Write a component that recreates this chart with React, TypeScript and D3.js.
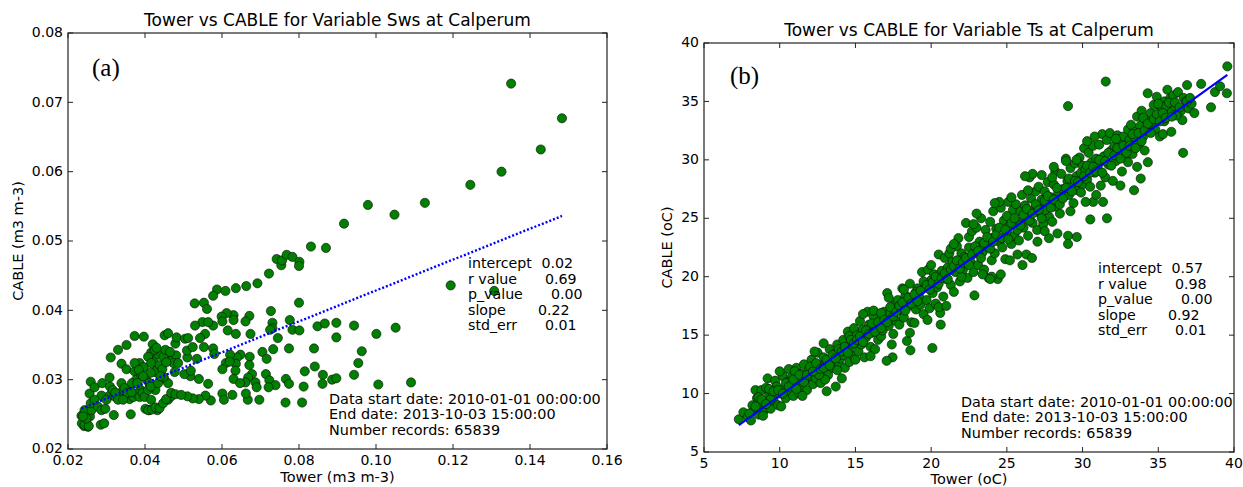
import React from 'react';
import * as d3 from 'd3';

// Sws panel (a): tower vs cable soil water, m3 m-3
const swsPoints: [number, number][] = [
  [0.0235, 0.0248], [0.0243, 0.0256], [0.0248, 0.0237], [0.0242, 0.0233], [0.0252, 0.0232],
  [0.0257, 0.0247], [0.0261, 0.0256], [0.0259, 0.0266], [0.0256, 0.028], [0.0259, 0.0297],
  [0.0269, 0.0289], [0.0278, 0.0261], [0.0287, 0.0256], [0.0297, 0.0258], [0.0285, 0.0235],
  [0.0294, 0.0237], [0.0287, 0.0277], [0.0289, 0.0295], [0.0308, 0.0277], [0.0308, 0.0303],
  [0.0319, 0.0249], [0.0311, 0.0332], [0.033, 0.0343], [0.0339, 0.0323], [0.0321, 0.0276],
  [0.0334, 0.0279], [0.0343, 0.0285], [0.0352, 0.035], [0.0352, 0.0315], [0.0356, 0.0285],
  [0.036, 0.0272], [0.0363, 0.025], [0.0373, 0.0363], [0.0373, 0.0312], [0.0377, 0.03],
  [0.0386, 0.0324], [0.0389, 0.0308], [0.0389, 0.0285], [0.0397, 0.0362], [0.0397, 0.0318],
  [0.0404, 0.03], [0.0411, 0.0295], [0.0411, 0.0256], [0.0416, 0.0339], [0.042, 0.0351],
  [0.0422, 0.0326], [0.0425, 0.0311], [0.0427, 0.0285], [0.0432, 0.0256], [0.0435, 0.0336],
  [0.0442, 0.0318], [0.0449, 0.0302], [0.0451, 0.0364], [0.0456, 0.0337], [0.046, 0.0367],
  [0.046, 0.0295], [0.046, 0.0271], [0.0468, 0.0276], [0.047, 0.0328], [0.0477, 0.0311],
  [0.0479, 0.0352], [0.0482, 0.0361], [0.0481, 0.0335],
  [0.0339, 0.0295], [0.0347, 0.0288], [0.0354, 0.0281], [0.0366, 0.0295], [0.037, 0.0275],
  [0.0378, 0.028], [0.0386, 0.0275], [0.0394, 0.0281], [0.0399, 0.0275], [0.0408, 0.0285],
  [0.0415, 0.029], [0.0416, 0.0271], [0.0408, 0.0333], [0.0416, 0.0324], [0.0432, 0.0314],
  [0.0438, 0.0321], [0.0448, 0.0333], [0.0453, 0.0343], [0.0465, 0.034], [0.0474, 0.0324],
  [0.0486, 0.0324], [0.0401, 0.0258], [0.0408, 0.0256], [0.0418, 0.0257], [0.0427, 0.026],
  [0.0438, 0.0259], [0.0447, 0.0266], [0.0455, 0.0272], [0.0468, 0.0281], [0.0479, 0.0279],
  [0.0236, 0.0237], [0.0243, 0.0235], [0.0254, 0.0233], [0.0248, 0.0244], [0.0239, 0.0247],
  [0.0309, 0.029], [0.0316, 0.0285], [0.0323, 0.0281], [0.0373, 0.0324], [0.0384, 0.0314],
  [0.0425, 0.0343], [0.0434, 0.0295], [0.0448, 0.0304], [0.0269, 0.0271], [0.03, 0.0271],
  [0.033, 0.0271], [0.0343, 0.0271], [0.0445, 0.0315], [0.0455, 0.0325], [0.0415, 0.031],
  [0.0395, 0.0305], [0.038, 0.0295], [0.0365, 0.0282], [0.043, 0.0346], [0.044, 0.0305],
  [0.0587, 0.043], [0.0577, 0.0421], [0.0553, 0.0411], [0.0529, 0.041], [0.0561, 0.0402],
  [0.0727, 0.0399], [0.0731, 0.0382], [0.0731, 0.0374], [0.0725, 0.0372], [0.0671, 0.0392],
  [0.0661, 0.0384], [0.063, 0.0393], [0.063, 0.0386], [0.0612, 0.0396], [0.0599, 0.0391],
  [0.0601, 0.0384], [0.0615, 0.0371], [0.0636, 0.0366], [0.0674, 0.0366], [0.0745, 0.036],
  [0.0774, 0.0345], [0.0733, 0.0344], [0.0705, 0.034], [0.0716, 0.033], [0.0672, 0.0333],
  [0.0648, 0.0336], [0.0639, 0.0332], [0.0636, 0.0323], [0.061, 0.0324], [0.0621, 0.0336],
  [0.0577, 0.0378], [0.0549, 0.0383], [0.0564, 0.0383], [0.053, 0.0378], [0.0577, 0.0345],
  [0.0556, 0.0366], [0.0543, 0.036], [0.0553, 0.0347], [0.058, 0.0337], [0.0601, 0.0315],
  [0.062, 0.0326], [0.0635, 0.0313], [0.063, 0.0301], [0.0671, 0.0321], [0.0678, 0.0308],
  [0.0668, 0.0303], [0.0661, 0.0296], [0.0647, 0.0295], [0.0687, 0.0296], [0.069, 0.0289],
  [0.0714, 0.0308], [0.0723, 0.0299], [0.0739, 0.0292], [0.0721, 0.0289], [0.0697, 0.0271],
  [0.0667, 0.0271], [0.0662, 0.028], [0.0627, 0.0278], [0.0601, 0.028], [0.0605, 0.0271],
  [0.0571, 0.027], [0.0557, 0.0277], [0.054, 0.0272], [0.0524, 0.0273], [0.051, 0.0276],
  [0.0494, 0.0278], [0.0564, 0.0294], [0.054, 0.0301], [0.0518, 0.0305], [0.0502, 0.0308],
  [0.0519, 0.0313], [0.051, 0.0332], [0.0535, 0.033], [0.0509, 0.0342], [0.0524, 0.0347],
  [0.0504, 0.0359], [0.0512, 0.036],
  [0.0692, 0.0439], [0.0663, 0.0435], [0.0636, 0.0432], [0.0609, 0.0428], [0.0722, 0.0453],
  [0.0742, 0.0474], [0.0754, 0.0465], [0.0756, 0.0472], [0.0768, 0.048], [0.0783, 0.0477],
  [0.0801, 0.047], [0.08, 0.0464], [0.08, 0.0411], [0.0783, 0.0372], [0.0776, 0.0386],
  [0.0801, 0.0371], [0.0766, 0.0301], [0.0774, 0.0294], [0.0765, 0.0267], [0.0808, 0.0267],
  [0.0812, 0.029], [0.0815, 0.0312], [0.0841, 0.0319], [0.0862, 0.0307], [0.0861, 0.0294],
  [0.0839, 0.0345], [0.0848, 0.0377], [0.0867, 0.0381], [0.0886, 0.03], [0.0897, 0.0302],
  [0.0897, 0.0361], [0.0897, 0.0382], [0.0943, 0.0307], [0.0954, 0.0324], [0.0963, 0.0341],
  [0.0943, 0.0378], [0.1001, 0.0366], [0.1051, 0.0375], [0.1006, 0.0293], [0.1091, 0.0296],
  [0.0831, 0.0492], [0.087, 0.049], [0.0917, 0.0525], [0.0979, 0.0552], [0.1048, 0.0538],
  [0.1127, 0.0555], [0.1194, 0.0436], [0.1307, 0.0428], [0.1245, 0.0581], [0.1326, 0.06],
  [0.1428, 0.0632], [0.1351, 0.0727], [0.1483, 0.0677],
];

// Ts panel (b): tower vs cable soil temperature, oC
const tsPoints: [number, number][] = [
  [7.3, 7.8], [7.6, 8.4], [7.9, 8.0], [8.1, 7.7], [8.3, 8.6], [8.4, 10.3], [8.5, 9.6], [8.6, 8.2],
  [8.7, 8.9], [8.8, 10.3], [8.9, 9.3], [9.0, 8.6], [8.6, 9.7], [8.2, 9.0], [8.9, 8.1],
  [9.2, 11.3], [9.3, 9.9], [9.4, 8.7], [9.5, 10.1], [9.6, 9.4], [9.7, 11.1], [9.8, 10.6], [9.9, 9.0],
  [10.0, 10.0], [10.1, 8.9], [10.2, 11.5], [10.3, 10.4], [10.4, 9.6], [10.5, 11.0], [9.1, 10.5],
  [9.4, 9.5], [10.0, 11.9],
  [10.6, 12.1], [10.7, 10.2], [10.8, 11.4], [10.9, 9.8], [11.0, 10.7], [11.1, 12.2], [11.2, 11.0],
  [11.3, 10.0], [11.4, 11.7], [11.5, 10.5], [11.6, 12.5], [11.7, 11.2], [11.8, 10.3], [11.9, 12.0],
  [12.0, 11.5], [11.0, 11.9], [10.7, 11.0], [11.5, 9.8],
  [12.1, 12.9], [12.2, 10.8], [12.3, 12.0], [12.4, 11.3], [12.5, 13.5], [12.6, 12.4], [12.7, 10.9],
  [12.8, 11.9], [12.9, 13.1], [13.0, 12.5], [13.1, 10.2], [13.2, 11.6], [13.3, 13.8], [13.4, 12.8],
  [12.3, 13.6], [12.9, 14.3], [13.0, 11.2], [13.5, 12.2], [12.6, 11.6],
  [13.6, 13.4], [13.7, 10.6], [13.8, 14.2], [13.9, 12.6], [14.0, 13.0], [14.1, 11.3], [14.2, 14.6],
  [14.3, 12.2], [14.4, 13.7], [14.5, 15.3], [14.6, 12.7], [14.7, 14.1], [14.8, 13.3], [14.9, 15.6],
  [15.0, 14.4], [14.2, 13.3], [13.8, 12.0], [14.6, 14.9], [15.0, 12.9],
  [15.1, 15.0], [15.2, 13.6], [15.3, 16.2], [15.4, 14.2], [15.5, 15.5], [15.6, 13.1], [15.7, 14.8],
  [15.8, 17.0], [15.9, 15.9], [16.0, 14.0], [16.1, 15.2], [16.2, 16.6], [16.3, 13.8], [16.4, 15.6],
  [16.5, 14.6], [15.5, 16.8], [16.0, 13.2], [16.2, 17.1],
  [16.6, 16.1], [16.7, 14.9], [16.8, 15.4], [16.9, 17.0], [17.0, 16.4], [17.1, 18.6], [17.2, 15.8],
  [17.3, 16.9], [17.4, 14.2], [17.5, 15.1], [17.6, 17.6], [17.7, 16.2], [17.8, 18.0], [17.9, 15.9],
  [18.0, 17.1], [17.45, 13.1], [17.06, 12.8], [17.2, 18.2], [16.7, 16.9],
  [18.1, 19.0], [18.2, 16.5], [18.3, 18.4], [18.4, 14.5], [18.5, 17.5], [18.6, 19.4], [18.63, 13.7],
  [18.7, 16.1], [18.8, 18.0], [18.9, 16.05], [19.0, 17.2], [19.1, 19.0], [19.2, 18.3], [19.3, 17.6],
  [19.4, 20.4], [19.5, 16.8], [18.2, 18.9], [18.6, 15.2], [19.0, 18.7], [19.76, 16.3],
  [19.6, 19.1], [19.7, 18.0], [19.8, 20.6], [19.9, 17.3], [20.0, 19.7], [20.1, 18.6], [20.08, 13.9],
  [20.2, 20.2], [20.3, 17.7], [20.4, 19.1], [20.5, 21.9], [20.63, 15.9], [20.6, 16.9], [20.7, 20.5],
  [20.8, 18.3], [20.9, 21.6], [21.0, 19.8], [20.0, 21.0], [20.5, 17.4], [21.0, 17.5],
  [21.1, 20.8], [21.2, 22.0], [21.3, 19.3], [21.4, 21.3], [21.5, 18.7], [21.6, 20.4], [21.7, 22.6],
  [21.8, 21.0], [21.9, 19.6], [22.0, 22.0], [22.1, 20.6], [22.2, 21.7], [22.3, 24.6], [22.4, 19.9],
  [22.5, 22.5], [22.86, 18.4], [21.3, 22.4], [22.0, 20.0], [22.5, 23.4], [21.8, 23.3],
  [22.6, 21.3], [22.7, 23.9], [22.8, 20.4], [22.9, 22.0], [23.0, 24.2], [23.1, 21.0], [23.2, 23.0],
  [23.3, 25.0], [23.4, 22.1], [23.5, 20.6], [23.6, 24.0], [23.7, 22.6], [23.8, 19.9], [23.9, 24.7],
  [24.0, 23.3], [23.0, 25.4], [23.4, 20.2], [24.0, 21.4], [23.2, 22.5],
  [24.1, 25.6], [24.2, 22.0], [24.3, 24.1], [24.4, 19.8], [24.5, 23.0], [24.6, 25.9], [24.7, 22.5],
  [24.8, 24.8], [24.9, 21.5], [25.0, 23.8], [25.1, 26.4], [25.2, 24.4], [25.3, 22.8], [25.4, 25.7],
  [25.5, 23.5], [24.5, 26.4], [24.0, 20.0], [25.7, 21.9], [25.0, 25.2],
  [25.6, 26.2], [25.7, 24.7], [25.8, 23.1], [25.9, 25.6], [26.0, 27.0], [26.03, 21.0], [26.1, 24.2],
  [26.2, 26.1], [26.29, 21.9], [26.3, 25.0], [26.4, 23.5], [26.5, 28.5], [26.6, 26.7], [26.66, 21.6],
  [26.7, 24.6], [26.8, 25.8], [26.9, 27.3], [27.0, 26.0], [27.02, 23.0], [26.4, 27.4], [27.0, 24.0],
  [26.7, 28.8],
  [27.1, 27.7], [27.2, 25.4], [27.3, 26.6], [27.4, 24.5], [27.5, 27.3], [27.6, 26.1], [27.7, 28.1],
  [27.78, 23.3], [27.8, 25.1], [27.9, 26.8], [28.0, 24.7], [28.1, 27.9], [28.2, 29.0], [28.3, 26.4],
  [28.34, 23.7], [28.4, 27.2], [28.5, 25.4], [28.0, 28.5], [27.5, 25.7], [28.2, 26.0],
  [28.6, 28.8], [28.7, 27.5], [28.8, 26.9], [28.9, 30.1], [29.0, 28.2], [29.04, 34.6], [29.04, 23.5],
  [29.04, 22.8], [29.1, 27.0], [29.2, 29.3], [29.3, 28.0], [29.4, 26.3], [29.5, 29.7], [29.62, 23.4],
  [29.6, 28.6], [29.7, 27.4], [29.8, 30.2], [29.9, 28.9], [30.0, 27.9], [29.2, 25.6], [30.0, 29.5],
  [30.1, 31.0], [30.2, 29.2], [30.3, 28.3], [30.4, 30.6], [30.5, 27.7], [30.51, 24.9], [30.6, 29.8],
  [30.7, 26.4], [30.7, 31.2], [30.8, 28.9], [30.9, 30.1], [31.0, 29.4], [31.1, 31.3], [31.2, 27.8],
  [31.35, 26.4], [31.4, 30.3], [31.5, 28.5], [31.53, 36.7], [31.61, 25.0], [31.3, 32.2], [30.9, 27.0],
  [31.6, 31.7], [31.7, 29.6], [31.8, 32.3], [31.9, 30.8], [32.0, 28.2], [32.1, 31.2], [32.2, 29.9],
  [32.3, 32.1], [32.4, 30.4], [32.5, 31.6], [32.6, 29.0], [32.7, 32.0], [32.8, 30.3], [32.9, 31.1],
  [33.0, 32.6], [32.2, 31.8], [32.6, 30.8], [33.0, 29.8],
  [33.1, 31.7], [33.2, 33.0], [33.3, 30.5], [33.4, 27.4], [33.5, 32.4], [33.6, 33.7], [33.7, 31.3],
  [33.84, 28.4], [33.8, 32.9], [33.9, 34.2], [34.0, 32.0], [34.1, 30.8], [34.2, 33.4], [34.31, 29.8],
  [34.3, 35.7], [34.4, 32.7], [34.5, 34.0], [33.4, 32.0], [34.0, 33.6],
  [34.6, 33.0], [34.7, 34.7], [34.8, 32.6], [34.9, 35.4], [35.0, 33.5], [35.1, 32.0], [35.2, 34.4],
  [35.31, 32.2], [35.4, 35.0], [35.5, 34.6], [35.6, 36.0], [35.7, 33.9], [35.86, 32.4], [35.8, 35.3],
  [35.9, 34.1], [36.0, 35.5], [35.0, 34.8], [35.4, 33.3],
  [36.1, 34.6], [36.3, 35.8], [36.5, 34.2], [36.59, 33.4], [36.64, 30.6], [36.67, 35.3], [36.8, 35.0],
  [37.0, 34.4], [37.2, 34.8], [37.38, 34.0], [37.83, 36.5], [38.48, 34.5], [38.74, 35.8],
  [39.08, 36.3], [39.53, 35.7], [39.56, 38.0], [36.2, 33.8], [36.9, 36.4],
  // dense core along the fit
  [8.0, 8.3], [8.4, 8.9], [8.8, 9.5], [9.1, 9.1], [9.3, 10.4], [9.6, 10.2], [9.9, 10.3], [10.2, 10.0],
  [10.4, 10.9], [10.6, 10.6], [10.9, 11.2], [11.1, 10.4], [11.3, 11.6], [11.6, 11.0], [11.8, 11.6],
  [12.0, 12.3], [12.2, 11.9], [12.4, 12.6], [12.7, 12.1], [12.9, 12.2], [13.1, 12.9], [13.3, 12.4],
  [13.5, 13.3], [13.7, 13.0], [13.9, 13.8], [14.1, 13.6], [14.3, 14.0], [14.5, 13.5], [14.7, 14.6],
  [14.9, 14.3], [15.1, 14.6], [15.3, 14.9], [15.5, 14.4], [15.7, 15.4], [15.9, 15.1], [16.1, 16.0],
  [16.3, 15.3], [16.5, 16.1], [16.7, 15.6], [16.9, 16.3], [17.1, 16.1], [17.3, 17.4], [17.5, 16.6],
  [17.7, 17.0], [17.9, 17.5], [18.1, 17.8], [18.3, 17.1], [18.5, 18.2], [18.7, 17.7], [18.9, 18.5],
  [19.1, 17.9], [19.3, 18.8], [19.5, 19.6], [19.7, 19.3], [19.9, 18.9], [20.1, 19.5], [20.3, 20.0],
  [20.5, 19.4], [20.7, 19.9], [20.9, 20.3], [21.1, 19.8], [21.3, 20.6], [21.5, 20.9], [21.7, 21.4],
  [21.9, 20.7], [22.1, 21.2], [22.3, 21.6], [22.5, 21.0], [22.7, 21.9], [22.9, 22.6], [23.1, 22.2],
  [23.3, 21.6], [23.5, 22.9], [23.7, 23.4], [23.9, 22.4], [24.1, 23.0], [24.3, 23.6], [24.5, 24.2],
  [24.7, 23.3], [24.9, 24.0], [25.1, 23.2], [25.3, 24.6], [25.5, 25.0], [25.7, 24.0], [25.9, 24.4],
  [26.1, 25.3], [26.3, 25.8], [26.5, 24.8], [26.7, 25.4], [26.9, 26.2], [27.1, 25.7], [27.3, 25.0],
  [27.5, 26.5], [27.7, 26.9], [27.9, 25.9], [28.1, 26.6], [28.3, 27.6], [28.5, 26.2], [28.7, 26.7],
  [28.9, 27.6], [29.1, 28.4], [29.3, 27.3], [29.5, 28.2], [29.7, 28.1], [29.9, 27.2], [30.1, 28.6],
  [30.3, 29.5], [30.5, 28.9], [30.7, 29.4], [30.9, 29.0], [31.1, 30.0], [31.3, 28.9], [31.5, 29.9],
  [31.7, 30.6], [31.9, 29.5], [32.1, 30.4], [32.3, 31.0], [32.5, 30.1], [32.7, 31.2], [32.9, 30.6],
  [33.1, 31.2], [33.3, 32.2], [33.5, 31.0], [33.7, 32.3], [33.9, 31.6], [34.1, 32.5], [34.3, 33.1],
  [34.5, 32.3], [34.7, 33.5], [34.9, 33.9], [35.1, 33.3], [35.3, 34.0], [35.5, 33.6], [35.7, 34.9],
  [35.9, 33.7], [36.1, 34.9], [36.4, 34.5], [36.9, 35.0], [37.1, 35.3],
  [21.5, 22.8], [22.8, 24.5], [24.2, 26.3], [25.3, 26.8], [26.2, 28.6], [27.3, 28.7], [28.1, 29.4],
  [28.9, 29.9], [29.6, 30.0], [30.3, 31.6], [30.8, 32.0], [23.9, 19.8], [24.6, 20.2], [25.2, 21.4],
  [27.5, 23.9], [30.2, 26.4], [32.5, 27.8], [33.6, 29.4],
];

const swsXTicks = [0.02, 0.04, 0.06, 0.08, 0.1, 0.12, 0.14, 0.16];
const swsYTicks = [0.02, 0.03, 0.04, 0.05, 0.06, 0.07, 0.08];
const tsXTicks = [5, 10, 15, 20, 25, 30, 35, 40];
const tsYTicks = [5, 10, 15, 20, 25, 30, 35, 40];

const statNames = ['intercept', 'r value', 'p_value', 'slope', 'std_err'];
const swsStats = ['0.02', '0.69', '0.00', '0.22', '0.01'];
const tsStats = ['0.57', '0.98', '0.00', '0.92', '0.01'];
const dateLines = [
  'Data start date: 2010-01-01 00:00:00',
  'End date: 2013-10-03 15:00:00',
  'Number records: 65839',
];

// fitted line used for the blue overlay
const swsFit = { intercept: 0.0206, slope: 0.2226 };
const tsFit = { intercept: 0.52, slope: 0.929 };

const FONT = '"DejaVu Sans", Verdana, sans-serif';
const statCol = [73.5, 77, 83, 70, 77]; // x offset of the value column

const Panel = ({ cfg }) => {
  const { box, points, xDomain, yDomain, xTicks, yTicks, fmt, fit, dotted } = cfg;
  const x = d3.scaleLinear().domain(xDomain).range([box.x0, box.x1]);
  const y = d3.scaleLinear().domain(yDomain).range([box.y1, box.y0]);
  const xs = d3.extent(points, d => d[0]);
  const fitLine = d3
    .line()
    .x(d => x(d))
    .y(d => y(fit.intercept + fit.slope * d))(xs);
  const tl = 5;
  const cx = (box.x0 + box.x1) / 2;
  const cy = (box.y0 + box.y1) / 2;

  return (
    <g fontFamily={FONT} fill="#000">
      <text x={cx} y={box.y0 - 7} textAnchor="middle" fontSize={17}>
        {cfg.title}
      </text>

      {/* scatter */}
      {points.map((d, i) => (
        <circle key={i} cx={x(d[0])} cy={y(d[1])} r={4.6} fill="#008000" stroke="#0a0a0a" strokeWidth={0.6} />
      ))}

      <path
        d={fitLine}
        fill="none"
        stroke="#0000ff"
        strokeWidth={dotted ? 2.4 : 2.2}
        strokeDasharray={dotted ? '2,2' : null}
      />

      {/* frame + inward ticks on all sides */}
      <rect x={box.x0} y={box.y0} width={box.x1 - box.x0} height={box.y1 - box.y0} fill="none" stroke="#222" strokeWidth={1.2} />
      {xTicks.map(t => (
        <g key={'x' + t}>
          <line x1={x(t)} x2={x(t)} y1={box.y1} y2={box.y1 - tl} stroke="#222" />
          <line x1={x(t)} x2={x(t)} y1={box.y0} y2={box.y0 + tl} stroke="#222" />
          <text x={x(t)} y={box.y1 + 16} textAnchor="middle" fontSize={14}>
            {fmt(t)}
          </text>
        </g>
      ))}
      {yTicks.map(t => (
        <g key={'y' + t}>
          <line x1={box.x0} x2={box.x0 + tl} y1={y(t)} y2={y(t)} stroke="#222" />
          <line x1={box.x1} x2={box.x1 - tl} y1={y(t)} y2={y(t)} stroke="#222" />
          <text x={box.x0 - 5} y={y(t)} dy="0.3em" textAnchor="end" fontSize={14}>
            {fmt(t)}
          </text>
        </g>
      ))}

      <text x={cx} y={cfg.xLabelY} textAnchor="middle" fontSize={14.5}>
        {cfg.xLabel}
      </text>
      <text
        transform={`translate(${cfg.yLabelX},${cy}) rotate(-90)`}
        textAnchor="middle"
        fontSize={14.5}
      >
        {cfg.yLabel}
      </text>

      <text x={cfg.tag[0]} y={cfg.tag[1]} fontFamily='"Liberation Serif", "Times New Roman", serif' fontSize={25}>
        {cfg.tagText}
      </text>

      {statNames.map((s, i) => (
        <g key={s} fontSize={14.2}>
          <text x={cfg.stat[0]} y={cfg.stat[1] + i * 15.5}>{s}</text>
          <text x={cfg.stat[0] + statCol[i]} y={cfg.stat[1] + i * 15.5}>{cfg.stats[i]}</text>
        </g>
      ))}

      {dateLines.map((s, i) => (
        <text key={s} x={cfg.date[0]} y={cfg.date[1] + i * 15.5} fontSize={14.4}>
          {s}
        </text>
      ))}
    </g>
  );
};

const App = () => {
  const panels = [
    {
      title: 'Tower vs CABLE for Variable Sws at Calperum',
      box: { x0: 68, x1: 607, y0: 33, y1: 449 },
      points: swsPoints,
      xDomain: [0.02, 0.16],
      yDomain: [0.02, 0.08],
      xTicks: swsXTicks,
      yTicks: swsYTicks,
      fmt: d3.format('.2f'),
      fit: swsFit,
      dotted: true,
      xLabel: 'Tower (m3 m-3)',
      yLabel: 'CABLE (m3 m-3)',
      xLabelY: 482,
      yLabelX: 23,
      tag: [92, 76],
      tagText: '(a)',
      stat: [468, 268],
      stats: swsStats,
      date: [329, 403.5],
    },
    {
      title: 'Tower vs CABLE for Variable Ts at Calperum',
      box: { x0: 704, x1: 1234, y0: 43, y1: 452 },
      points: tsPoints,
      xDomain: [5, 40],
      yDomain: [5, 40],
      xTicks: tsXTicks,
      yTicks: tsYTicks,
      fmt: d3.format('d'),
      fit: tsFit,
      dotted: false,
      xLabel: 'Tower (oC)',
      yLabel: 'CABLE (oC)',
      xLabelY: 484,
      yLabelX: 672,
      tag: [730, 84],
      tagText: '(b)',
      stat: [1098, 273],
      stats: tsStats,
      date: [961, 406.5],
    },
  ];

  return (
    <svg
      width={1243}
      height={487}
      style={{ position: 'absolute', left: 0, top: 0, background: '#fff' }}
    >
      <rect width={1243} height={487} fill="#fff" />
      {panels.map(p => (
        <Panel key={p.title} cfg={p} />
      ))}
    </svg>
  );
};

export default App;
